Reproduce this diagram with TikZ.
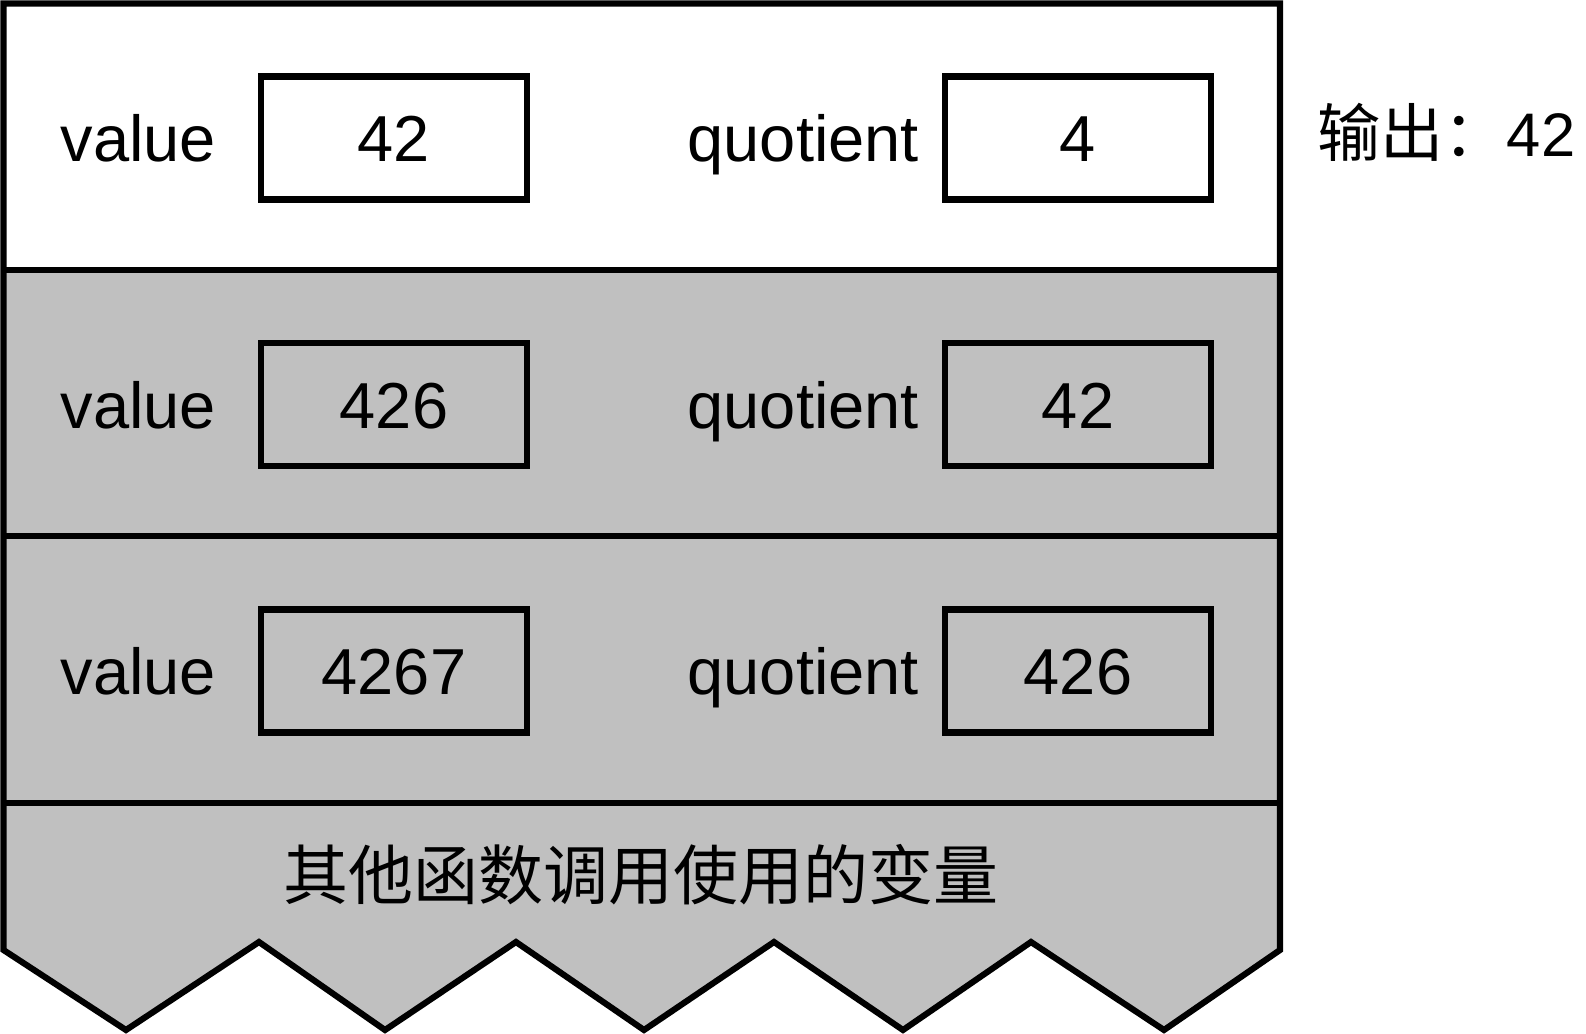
\documentclass[tikz,border=0pt]{standalone}
\usepackage{fontspec}
\setmainfont{Liberation Sans}
\newfontfamily\cjk{Noto Sans CJK SC}
\usepackage{tikz}
\usetikzlibrary{positioning}
\definecolor{stackgray}{RGB}{192,192,192}

\begin{document}
\begin{tikzpicture}[x=0.02cm,y=-0.02cm,line width=3.5pt,line join=miter,
                        box node/.style={draw,rectangle,minimum width=5.32cm,minimum height=2.46cm,inner sep=0pt,
                          text height=26.8pt,text depth=0pt,font=\fontsize{37}{40}\selectfont},
                        label node/.style={inner sep=0pt,outer sep=0pt,text height=26.8pt,text depth=0pt,
                          font=\fontsize{37}{40}\selectfont}]

      \useasboundingbox (0,0) rectangle (1586,1034);

      % stack frames
      \fill[stackgray] (3.5,270) -- (1280,270) -- (1280,950) -- (1164,1030) -- (1031,942) -- (903,1030)
        -- (774,942) -- (644,1030) -- (516,942) -- (385,1030) -- (259,942) -- (126,1030) -- (3.5,950) -- cycle;
      \draw (3.5,950) -- (3.5,3.5) -- (1280,3.5) -- (1280,950) -- (1164,1030) -- (1031,942) -- (903,1030)
        -- (774,942) -- (644,1030) -- (516,942) -- (385,1030) -- (259,942) -- (126,1030) -- cycle;
      \draw (3.5,270) -- (1280,270);
      \draw (3.5,536) -- (1280,536);
      \draw (3.5,803) -- (1280,803);

      \node[box node] (v1) at (394,138) {42};
      \node[box node] (q1) at (1078,138) {4};
      \node[box node] (v2) at (394,404.5) {426};
      \node[box node] (q2) at (1078,404.5) {42};
      \node[box node] (v3) at (394,671) {4267};
      \node[box node] (q3) at (1078,671) {426};
      \node[label node] (vl1) [left=0.84cm of v1] {value};
      \node[label node] (ql1) [left=0.46cm of q1] {quotient};
      \node[label node] (vl2) [left=0.84cm of v2] {value};
      \node[label node] (ql2) [left=0.46cm of q2] {quotient};
      \node[label node] (vl3) [left=0.84cm of v3] {value};
      \node[label node] (ql3) [left=0.46cm of q3] {quotient};

      \node[font=\cjk\fontsize{37}{40}\selectfont] (other) at (641,875) {其他函数调用使用的变量};
      \node[anchor=base west,inner sep=0pt] (out) at (1314,156)
        {{\cjk\fontsize{36}{40}\selectfont 输出：}{\fontsize{35}{38}\selectfont 42}};
    \end{tikzpicture}
\end{document}
